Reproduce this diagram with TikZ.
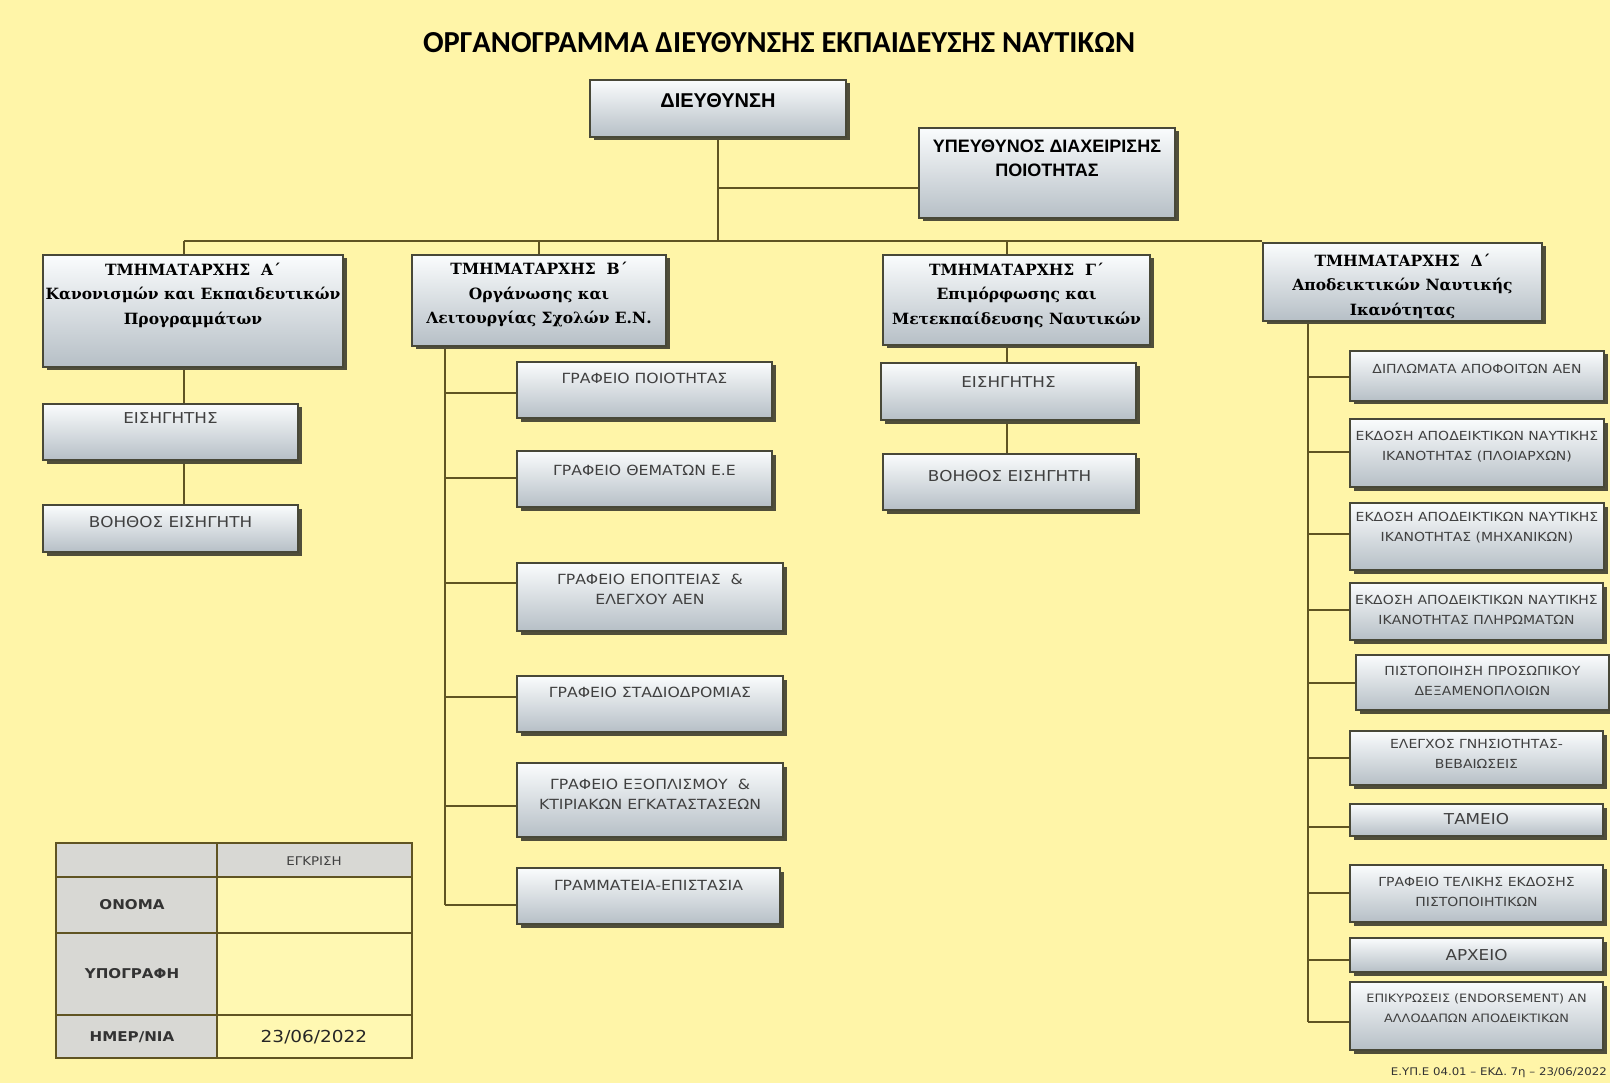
\documentclass[tikz,border=0pt]{standalone}
\usepackage{fontspec}
\setmainfont{DejaVu Sans}
\newfontfamily\titlefont{Carlito}
\newfontfamily\regfont[FakeStretch=1.12]{DejaVu Sans}
\newfontfamily\hdfont{DejaVu Serif}
\newfontfamily\bsans{Liberation Sans}
\usetikzlibrary{shadows}
\pgfdeclarelayer{back}
\pgfdeclarelayer{wires}
\pgfsetlayers{back,wires,main}
\definecolor{bgyel}{RGB}{255,245,168}
\definecolor{wire}{RGB}{96,84,34}
\definecolor{border}{RGB}{72,72,56}
\definecolor{btop}{RGB}{250,252,253}
\definecolor{bbot}{RGB}{182,191,198}
\definecolor{txtgrey}{RGB}{64,64,64}
\definecolor{cellgrey}{RGB}{216,216,212}
\definecolor{cellyel}{RGB}{255,248,178}
\definecolor{shad}{RGB}{80,78,58}
\tikzset{
  box/.style={draw=border, line width=1.6pt, top color=btop, bottom color=bbot,
    drop shadow={shadow xshift=3.5pt, shadow yshift=-3.5pt, fill=shad, opacity=1},
    inner sep=0pt},
  conn/.style={draw=wire, line width=2.4pt},
  reg/.style={font=\regfont\fontsize{14}{20}\selectfont, text=txtgrey, align=center, inner sep=0pt},
  regA/.style={font=\regfont\fontsize{15}{20}\selectfont, text=txtgrey, align=center, inner sep=0pt},
  regD/.style={font=\regfont\fontsize{12.5}{20}\selectfont, text=txtgrey, align=center, inner sep=0pt},
  hd/.style={font=\hdfont\bfseries\fontsize{15.5}{24.5}\selectfont, align=center, inner sep=0pt},
  bhd/.style={font=\bsans\bfseries\fontsize{18}{24}\selectfont, align=center, inner sep=0pt},
  tbl/.style={draw=wire, line width=2pt},
  tlab/.style={font=\regfont\bfseries\fontsize{13.5}{15}\selectfont, text=txtgrey!80!black, inner sep=0pt},
}
\newcommand\mkbox[5]{\node[box,minimum width={#4-#2},minimum height={#5-#3}] (#1) at ({(#2+#4)/2},{(#3+#5)/2}) {};}
\begin{document}
\begin{tikzpicture}[x=1pt,y=-1pt]
\path[use as bounding box] (0,0) rectangle (1610,1083);
\begin{pgfonlayer}{back}
\fill[bgyel] (0,0) rectangle (1610,1083);
\end{pgfonlayer}

% title
\node[font=\titlefont\bfseries\fontsize{30.5}{34}\selectfont, inner sep=0pt] (title) at (779,43) {ΟΡΓΑΝΟΓΡΑΜΜΑ ΔΙΕΥΘΥΝΣΗΣ ΕΚΠΑΙΔΕΥΣΗΣ ΝΑΥΤΙΚΩΝ};

% top
\mkbox{dir}{590}{80}{846}{137}
\node[bhd, font=\bsans\bfseries\fontsize{20}{24}\selectfont] (dirt) at (dir.center |- 0,101) {ΔΙΕΥΘΥΝΣΗ};
\mkbox{qual}{919}{128}{1175}{218}
\node[bhd] (qualt) at (qual.center |- 0,158) {ΥΠΕΥΘΥΝΟΣ ΔΙΑΧΕΙΡΙΣΗΣ\\ΠΟΙΟΤΗΤΑΣ};

% department A
\mkbox{ta}{43}{255}{343}{367}
\node[hd] (tat) at (ta.center |- 0,295) {ΤΜΗΜΑΤΑΡΧΗΣ\ \ Α΄\\Κανονισμών και Εκπαιδευτικών\\Προγραμμάτων};
\mkbox{ta1}{43}{404}{298}{460}
\node[regA] (ta1t) at (ta1.center |- 0,418) {ΕΙΣΗΓΗΤΗΣ};
\mkbox{ta2}{43}{505}{298}{552}
\node[regA] (ta2t) at (ta2.center |- 0,522) {ΒΟΗΘΟΣ ΕΙΣΗΓΗΤΗ};

% department B
\mkbox{tb}{412}{255}{666}{346}
\node[hd] (tbt) at (tb.center |- 0,295) {ΤΜΗΜΑΤΑΡΧΗΣ\ \ Β΄\\Οργάνωσης και\\Λειτουργίας Σχολών Ε.Ν.};
\mkbox{b1}{517}{362}{772}{418}
\node[reg] (b1t) at (b1.center |- 0,378) {ΓΡΑΦΕΙΟ ΠΟΙΟΤΗΤΑΣ};
\mkbox{b2}{517}{451}{772}{507}
\node[reg] (b2t) at (b2.center |- 0,470) {ΓΡΑΦΕΙΟ ΘΕΜΑΤΩΝ Ε.Ε};
\mkbox{b3}{517}{563}{783}{631}
\node[reg] (b3t) at (b3.center |- 0,589) {ΓΡΑΦΕΙΟ ΕΠΟΠΤΕΙΑΣ\ \ \&\\ΕΛΕΓΧΟΥ ΑΕΝ};
\mkbox{b4}{517}{676}{783}{732}
\node[reg] (b4t) at (b4.center |- 0,692) {ΓΡΑΦΕΙΟ ΣΤΑΔΙΟΔΡΟΜΙΑΣ};
\mkbox{b5}{517}{763}{783}{837}
\node[reg] (b5t) at (b5.center |- 0,794) {ΓΡΑΦΕΙΟ ΕΞΟΠΛΙΣΜΟΥ\ \ \&\\ΚΤΙΡΙΑΚΩΝ ΕΓΚΑΤΑΣΤΑΣΕΩΝ};
\mkbox{b6}{517}{868}{780}{924}
\node[reg] (b6t) at (b6.center |- 0,885) {ΓΡΑΜΜΑΤΕΙΑ-ΕΠΙΣΤΑΣΙΑ};

% department G
\mkbox{tg}{883}{255}{1150}{345}
\node[hd] (tgt) at (tg.center |- 0,295) {ΤΜΗΜΑΤΑΡΧΗΣ\ \ Γ΄\\Επιμόρφωσης και\\Μετεκπαίδευσης Ναυτικών};
\mkbox{g1}{881}{363}{1136}{420}
\node[regA] (g1t) at (g1.center |- 0,382) {ΕΙΣΗΓΗΤΗΣ};
\mkbox{g2}{883}{454}{1136}{510}
\node[regA] (g2t) at (g2.center |- 0,476) {ΒΟΗΘΟΣ ΕΙΣΗΓΗΤΗ};

% department D
\mkbox{td}{1263}{243}{1542}{321}
\node[hd] (tdt) at (td.center |- 0,286) {ΤΜΗΜΑΤΑΡΧΗΣ\ \ Δ΄\\Αποδεικτικών Ναυτικής\\Ικανότητας};
\mkbox{d1}{1350}{351}{1604}{401}
\node[regD] (d1t) at (d1.center |- 0,369) {ΔΙΠΛΩΜΑΤΑ ΑΠΟΦΟΙΤΩΝ ΑΕΝ};
\mkbox{d2}{1350}{419}{1604}{487}
\node[regD] (d2t) at (d2.center |- 0,447) {ΕΚΔΟΣΗ ΑΠΟΔΕΙΚΤΙΚΩΝ ΝΑΥΤΙΚΗΣ\\ΙΚΑΝΟΤΗΤΑΣ (ΠΛΟΙΑΡΧΩΝ)};
\mkbox{d3}{1350}{503}{1604}{570}
\node[regD] (d3t) at (d3.center |- 0,528) {ΕΚΔΟΣΗ ΑΠΟΔΕΙΚΤΙΚΩΝ ΝΑΥΤΙΚΗΣ\\ΙΚΑΝΟΤΗΤΑΣ (ΜΗΧΑΝΙΚΩΝ)};
\mkbox{d4}{1350}{583}{1603}{640}
\node[regD] (d4t) at (d4.center |- 0,610) {ΕΚΔΟΣΗ ΑΠΟΔΕΙΚΤΙΚΩΝ ΝΑΥΤΙΚΗΣ\\ΙΚΑΝΟΤΗΤΑΣ ΠΛΗΡΩΜΑΤΩΝ};
\mkbox{d5}{1356}{655}{1609}{710}
\node[regD] (d5t) at (d5.center |- 0,681) {ΠΙΣΤΟΠΟΙΗΣΗ ΠΡΟΣΩΠΙΚΟΥ\\ΔΕΞΑΜΕΝΟΠΛΟΙΩΝ};
\mkbox{d6}{1350}{731}{1603}{785}
\node[regD] (d6t) at (d6.center |- 0,754) {ΕΛΕΓΧΟΣ ΓΝΗΣΙΟΤΗΤΑΣ-\\ΒΕΒΑΙΩΣΕΙΣ};
\mkbox{d7}{1350}{804}{1603}{836}
\node[regA] (d7t) at (d7.center |- 0,819) {ΤΑΜΕΙΟ};
\mkbox{d8}{1350}{865}{1603}{922}
\node[regD] (d8t) at (d8.center |- 0,892) {ΓΡΑΦΕΙΟ ΤΕΛΙΚΗΣ ΕΚΔΟΣΗΣ\\ΠΙΣΤΟΠΟΙΗΤΙΚΩΝ};
\mkbox{d9}{1350}{938}{1603}{972}
\node[regA] (d9t) at (d9.center |- 0,955) {ΑΡΧΕΙΟ};
\mkbox{d10}{1350}{982}{1603}{1050}
\node[regD, font=\regfont\fontsize{11.5}{20}\selectfont] (d10t) at (d10.center |- 0,1008) {ΕΠΙΚΥΡΩΣΕΙΣ (ENDORSEMENT) ΑΝ\\ΑΛΛΟΔΑΠΩΝ ΑΠΟΔΕΙΚΤΙΚΩΝ};

% footer
\node[font=\regfont\fontsize{10.5}{12}\selectfont, text=black!80, anchor=east, inner sep=0pt] (foot) at (1607,1073) {Ε.ΥΠ.Ε 04.01 – ΕΚΔ. 7η – 23/06/2022};

% connectors
\begin{pgfonlayer}{wires}
\coordinate (aX) at (184,241);
\coordinate (bX) at (445,0);
\coordinate (gX) at (1007,0);
\coordinate (dX) at (1308,0);
\coordinate (qY) at (0,188);
\draw[conn] (dir.south) -- (dir.south |- aX);
\draw[conn] (dir.south |- qY) -- (qual.west |- qY);
\draw[conn] (aX) -- (aX -| td.west);
\draw[conn] (aX) -- (aX |- ta2.north);
\draw[conn] (tb.north) -- (tb.north |- aX);
\draw[conn] (bX |- tb.south) -- (bX |- 0,905);
\draw[conn] (bX |- 0,393) -- (b1.west |- 0,393);
\draw[conn] (bX |- 0,478) -- (b2.west |- 0,478);
\draw[conn] (bX |- 0,583) -- (b3.west |- 0,583);
\draw[conn] (bX |- 0,697) -- (b4.west |- 0,697);
\draw[conn] (bX |- 0,806) -- (b5.west |- 0,806);
\draw[conn] (bX |- 0,905) -- (b6.west |- 0,905);
\draw[conn] (gX |- aX) -- (gX |- g2.north);
\draw[conn] (dX |- td.south) -- (dX |- 0,1022);
\draw[conn] (dX |- 0,377) -- (d1.west |- 0,377);
\draw[conn] (dX |- 0,452) -- (d2.west |- 0,452);
\draw[conn] (dX |- 0,534) -- (d3.west |- 0,534);
\draw[conn] (dX |- 0,610) -- (d4.west |- 0,610);
\draw[conn] (dX |- 0,683) -- (d5.west |- 0,683);
\draw[conn] (dX |- 0,758) -- (d6.west |- 0,758);
\draw[conn] (dX |- 0,827) -- (d7.west |- 0,827);
\draw[conn] (dX |- 0,893) -- (d8.west |- 0,893);
\draw[conn] (dX |- 0,960) -- (d9.west |- 0,960);
\draw[conn] (dX |- 0,1022) -- (d10.west |- 0,1022);
\end{pgfonlayer}

% approval table
\fill[cellgrey] (56,843) rectangle (412,877);
\fill[cellgrey] (56,877) rectangle (217,1058);
\fill[cellyel] (217,877) rectangle (412,1058);
\draw[tbl] (56,843) rectangle (412,1058);
\draw[tbl] (217,843) -- (217,1058);
\draw[tbl] (56,877) -- (412,877);
\draw[tbl] (56,933) -- (412,933);
\draw[tbl] (56,1015) -- (412,1015);
\node[font=\regfont\fontsize{12}{14}\selectfont, text=txtgrey, inner sep=0pt] (appr) at (314,861) {ΕΓΚΡΙΣΗ};
\node[tlab] (name) at (132,905) {ΟΝΟΜΑ};
\node[tlab] (sign) at (132,974) {ΥΠΟΓΡΑΦΗ};
\node[tlab] (date) at (132,1037) {ΗΜΕΡ/ΝΙΑ};
\node[font=\regfont\fontsize{16.5}{18}\selectfont, text=black!85, inner sep=0pt] (dateval) at (314,1037) {23/06/2022};
\end{tikzpicture}
\end{document}
